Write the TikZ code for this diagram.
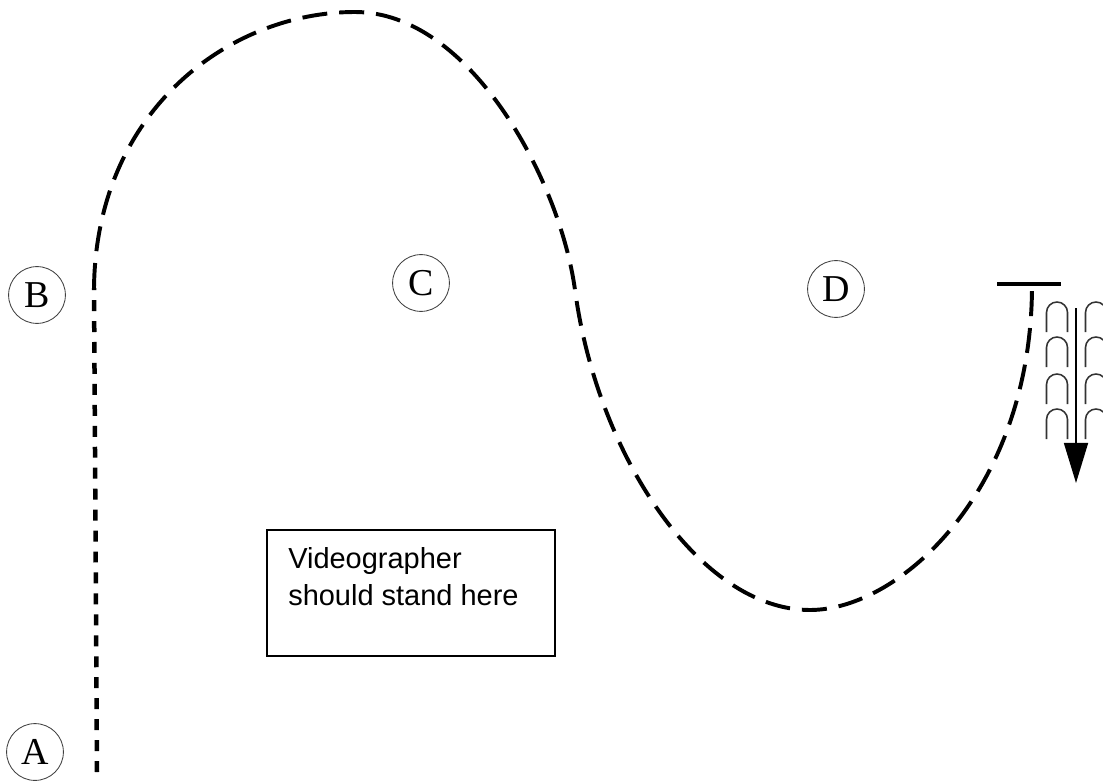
\documentclass[tikz,border=0pt]{standalone}
\usepackage{fontspec}
\setmainfont{Liberation Serif}
\newfontfamily\notefont{Liberation Sans}
\usetikzlibrary{arrows.meta,positioning}

\begin{document}
\begin{tikzpicture}[
  x=0.025cm, y=-0.025cm,
  spot/.style={
    draw=black!75,
    line width=0.6pt,
    circle,
    minimum size=1.42cm,
    inner sep=0pt,
    font=\fontsize{27}{27}\selectfont
  },
  walkpath/.style={line width=2.8pt,dash pattern=on 17.8pt off 8.5pt},
  startpath/.style={line width=3.2pt,dash pattern=on 7.8pt off 7.1pt},
  stepmark/.style={draw=black!80,line width=1.1pt},
  note/.style={font=\notefont\fontsize{20.6}{26.5}\selectfont,align=left}
]
  \useasboundingbox (0,0) rectangle (1103,781);

  % stations
  \node[spot] (A) at (35,752) {A};
  \node[spot] (B) at (37,295) {B};
  \node[spot] (C) at (421,283) {C};
  \node[spot] (D) at (836,289) {D};

  % walking route
  \coordinate (start) at (97,772);
  \coordinate (turn) at (94,288);
  \coordinate (stop) at (1032,285);
  \draw[startpath] (start) -- (turn);
  \draw[walkpath] (turn)
    .. controls (96,110) and (230,12) .. (355,12)
    .. controls (470,12) and (560,180) .. (575,290)
    .. controls (597,455) and (700,610) .. (810,610)
    .. controls (900,610) and (1032,490) .. (stop);

  % end bar
  \coordinate (barL) at (997,284);
  \coordinate (barR) at (1061,284);
  \draw[line width=3.2pt] (barL) -- (barR);

  % footsteps
  \foreach \ty in {302,337,374,409}
    \foreach \cx in {1057,1096}
      \draw[stepmark] ({\cx-10.5},{\ty+30}) -- ({\cx-10.5},{\ty+10.5})
        arc[start angle=180,end angle=0,radius=0.2625cm] -- ({\cx+10.5},{\ty+30});
  \coordinate (walkTop) at (1076,308);
  \coordinate (walkTip) at (1076,483);
  \draw[line width=1.1pt,-{Triangle[length=1cm,width=0.6cm]}]
    (walkTop) -- (walkTip);

  % videographer spot
  \node[draw,line width=1pt,minimum width=7.2cm,minimum height=3.15cm] (box) at (411,593) {};
  \node[note,anchor=north west,inner sep=0pt] (boxtext) at (288,547)
    {Videographer\\should stand here};
\end{tikzpicture}
\end{document}
